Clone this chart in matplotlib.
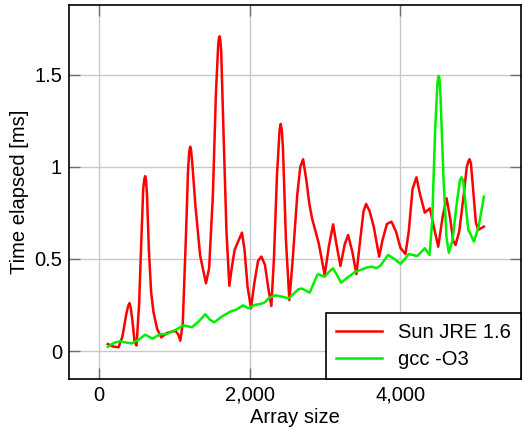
import matplotlib
matplotlib.use("Agg")
import matplotlib.pyplot as plt
from matplotlib.ticker import FuncFormatter

plt.rcParams['font.family'] = ['Liberation Sans', 'DejaVu Sans']

# Sun JRE 1.6
jre_x = [115, 180, 257, 310, 360, 385, 403, 420, 440, 470, 496, 530, 560, 585, 600, 611, 622,
         635, 660, 690, 722, 770, 824, 900, 1010, 1050, 1077, 1110, 1150, 1180, 1196, 1209,
         1222, 1240, 1280, 1340, 1418, 1460, 1510, 1550, 1580, 1590, 1599, 1608, 1620, 1650,
         1690, 1728, 1760, 1798, 1850, 1896, 1930, 1970, 2016, 2060, 2110, 2153, 2200, 2250,
         2286, 2320, 2360, 2395, 2410, 2425, 2440, 2480, 2525, 2570, 2630, 2670, 2707, 2750,
         2790, 2826, 2915, 2994, 3050, 3106, 3150, 3203, 3260, 3305, 3360, 3415, 3470, 3510,
         3544, 3590, 3645, 3717, 3760, 3820, 3880, 3940, 4000, 4066, 4110, 4160, 4212, 4260,
         4323, 4390, 4440, 4501, 4560, 4612, 4660, 4700, 4731, 4780, 4840, 4880, 4900, 4917,
         4935, 4960, 5000, 5032, 5107]
jre_y = [0.038, 0.025, 0.02, 0.08, 0.2, 0.245, 0.26, 0.235, 0.17, 0.05, 0.03, 0.25, 0.6,
         0.88, 0.935, 0.95, 0.93, 0.85, 0.55, 0.32, 0.21, 0.12, 0.074, 0.098, 0.11, 0.09, 0.056,
         0.15, 0.6, 0.98, 1.085, 1.11, 1.085, 1.0, 0.78, 0.52, 0.368, 0.45, 0.85, 1.4, 1.66,
         1.70, 1.71, 1.69, 1.63, 1.2, 0.65, 0.355, 0.45, 0.549, 0.6, 0.643, 0.55, 0.35, 0.232,
         0.37, 0.49, 0.513, 0.47, 0.33, 0.245, 0.5, 0.95, 1.2, 1.234, 1.2, 1.1, 0.6, 0.277,
         0.5, 0.85, 1.0, 1.042, 0.93, 0.8, 0.721, 0.585, 0.413, 0.57, 0.688, 0.58, 0.462, 0.58,
         0.63, 0.54, 0.418, 0.62, 0.76, 0.799, 0.76, 0.676, 0.513, 0.6, 0.69, 0.703, 0.65, 0.56,
         0.527, 0.65, 0.88, 0.944, 0.85, 0.752, 0.775, 0.68, 0.567, 0.73, 0.83, 0.72, 0.6, 0.576,
         0.65, 0.85, 1.0, 1.03, 1.042, 1.02, 0.9, 0.7, 0.658, 0.676]

# gcc -O3
gcc_x = [115, 200, 279, 360, 434, 520, 611, 709, 811, 900, 960, 1032, 1120, 1232, 1320, 1409,
         1470, 1528, 1640, 1741, 1820, 1910, 1985, 2060, 2140, 2200, 2260, 2339, 2430, 2516,
         2649, 2694, 2795, 2850, 2901, 2950, 2994, 3050, 3106, 3160, 3212, 3300, 3402, 3500,
         3560, 3624, 3680, 3734, 3836, 3920, 4000, 4060, 4110, 4222, 4323, 4386, 4420, 4460,
         4490, 4500, 4509, 4518, 4530, 4570, 4610, 4642, 4690, 4740, 4790, 4811, 4835, 4850,
         4900, 4975, 5040, 5107]
gcc_y = [0.023, 0.045, 0.053, 0.046, 0.042, 0.06, 0.089, 0.067, 0.092, 0.092, 0.105, 0.118,
         0.14, 0.129, 0.16, 0.2, 0.17, 0.156, 0.19, 0.214, 0.225, 0.248, 0.232, 0.25, 0.255,
         0.265, 0.29, 0.303, 0.295, 0.286, 0.337, 0.339, 0.317, 0.37, 0.418, 0.41, 0.404, 0.43,
         0.449, 0.41, 0.371, 0.4, 0.431, 0.445, 0.455, 0.458, 0.45, 0.464, 0.522, 0.5, 0.473,
         0.5, 0.527, 0.516, 0.558, 0.522, 0.7, 1.2, 1.45, 1.485, 1.495, 1.48, 1.4, 0.95, 0.62,
         0.534, 0.6, 0.78, 0.93, 0.944, 0.92, 0.85, 0.66, 0.594, 0.68, 0.839]

fig = plt.figure(figsize=(5.24, 4.30), dpi=100)
ax = fig.add_axes([0.1317, 0.1186, 0.8626, 0.8698])

ax.plot(jre_x, jre_y, color='#ff0000', lw=1.8, label='Sun JRE 1.6', zorder=3,
        solid_joinstyle='round')
ax.plot(gcc_x, gcc_y, color='#00ee00', lw=1.8, label='gcc -O3', zorder=3,
        solid_joinstyle='round')

ax.set_xlim(-400, 5600)
ax.set_ylim(-0.152, 1.88)
ax.set_xticks([0, 2000, 4000])
ax.set_yticks([0, 0.5, 1, 1.5])
ax.xaxis.set_major_formatter(FuncFormatter(lambda v, p: f'{int(v):,}'))
ax.yaxis.set_major_formatter(FuncFormatter(lambda v, p: f'{v:g}'))
ax.grid(True, color='#c8c8c8', lw=1)
ax.tick_params(direction='in', length=8, width=1, color='#707070', labelsize=14.5,
               top=True, right=True, pad=5)
for s in ax.spines.values():
    s.set_linewidth(1.2)

ax.set_xlabel('Array size', fontsize=14.5, labelpad=2)
ax.set_ylabel('Time elapsed [ms]', fontsize=14.5, labelpad=4)

leg = ax.legend(loc='lower right', fontsize=14.5, fancybox=False, framealpha=1,
                edgecolor='black', borderaxespad=0, handlelength=2.3, borderpad=0.5,
                labelspacing=0.4)
leg.get_frame().set_linewidth(1.2)

fig.savefig('out.png', dpi=100)
